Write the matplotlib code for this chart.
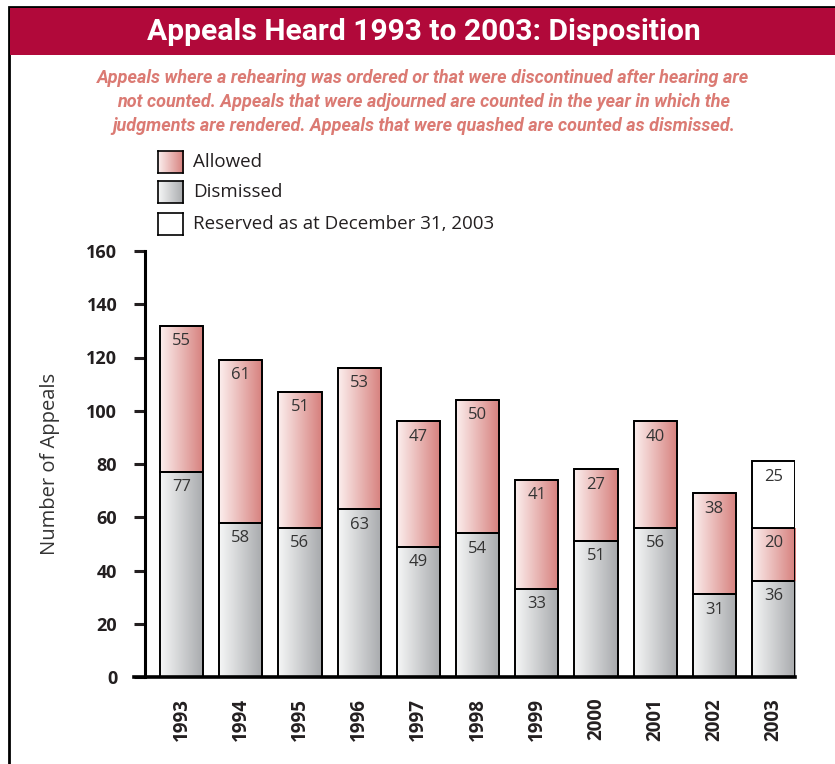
import numpy as np
import matplotlib
matplotlib.use("Agg")
import matplotlib.pyplot as plt
from matplotlib.colors import LinearSegmentedColormap
from matplotlib.patches import Rectangle

# data
years = ["1993", "1994", "1995", "1996", "1997", "1998", "1999", "2000", "2001", "2002", "2003"]
dismissed = [77, 58, 56, 63, 49, 54, 33, 51, 56, 31, 36]
allowed = [55, 61, 51, 53, 47, 50, 41, 27, 40, 38, 20]
reserved = [0, 0, 0, 0, 0, 0, 0, 0, 0, 0, 25]

title = "Appeals Heard 1993 to 2003: Disposition"
subtitle = ("Appeals where a rehearing was ordered or that were discontinued after hearing are\n"
            "not counted. Appeals that were adjourned are counted in the year in which the\n"
            "judgments are rendered. Appeals that were quashed are counted as dismissed.")
legend_labels = ["Allowed", "Dismissed", "Reserved as at December 31, 2003"]

plt.rcParams['font.family'] = ['Open Sans', 'DejaVu Sans']

RED = "#B1093A"
TEXT = "#231F20"
cm_allowed = LinearSegmentedColormap.from_list("allowed", ["#FCEFEE", "#D67F7C"])
cm_dismissed = LinearSegmentedColormap.from_list("dismissed", ["#F6F7F7", "#A7A9AC"])
grad = np.linspace(0, 1, 256).reshape(1, -1)

fig = plt.figure(figsize=(8.35, 7.64), dpi=100)

# frame and title band
fig.patches.append(Rectangle((9 / 835, -0.05), 1, 1.05 - 7 / 764, transform=fig.transFigure,
                             facecolor="none", edgecolor="black", linewidth=2))
fig.patches.append(Rectangle((10 / 835, 1 - 55 / 764), 1, 47 / 764, transform=fig.transFigure,
                             facecolor=RED, edgecolor="none"))
fig.text(0.508, 1 - 32 / 764, title, ha="center", va="center", color="white",
         fontsize=21.6, fontweight="bold", family=["Roboto", "DejaVu Sans"])
fig.text(0.507, 1 - 102 / 764, subtitle, ha="center", va="center", color="#DB7A73",
         fontsize=13, fontweight="bold", style="italic", family=["Roboto", "DejaVu Sans"],
         linespacing=1.4)

ax = fig.add_axes([145 / 835, 1 - 677 / 764, 650 / 835, 426 / 764])
x = np.arange(len(years))
width = 0.73

dis_bars = ax.bar(x, dismissed, width, facecolor="none", edgecolor="black", linewidth=1.4, zorder=3)
all_bars = ax.bar(x, allowed, width, bottom=dismissed, facecolor="none", edgecolor="black",
                  linewidth=1.4, zorder=3)
res_bottom = np.array(dismissed) + np.array(allowed)
res_bars = ax.bar(x, reserved, width, bottom=res_bottom, facecolor="white", edgecolor="black",
                  linewidth=1.4, zorder=3)

# horizontal gradient fill clipped to each bar
for bars, cmap in [(dis_bars, cm_dismissed), (all_bars, cm_allowed)]:
    for b in bars:
        x0, y0 = b.get_x(), b.get_y()
        im = ax.imshow(grad, cmap=cmap, aspect="auto", zorder=2,
                       extent=[x0, x0 + b.get_width(), y0, y0 + b.get_height()])
        im.set_clip_path(b)

# value labels near top of each segment
label_kw = dict(textcoords="offset points", ha="center", va="center", fontsize=12,
                color="#333333", zorder=4)
for i in range(len(years)):
    ax.annotate(str(dismissed[i]), (x[i], dismissed[i]), xytext=(0, -11), **label_kw)
    ax.annotate(str(allowed[i]), (x[i], res_bottom[i]), xytext=(0, -11), **label_kw)
    if reserved[i]:
        ax.annotate(str(reserved[i]), (x[i], res_bottom[i] + reserved[i]), xytext=(0, -11), **label_kw)

ax.set_xlim(-0.617, 10.363)
ax.set_ylim(0, 160)
ax.set_yticks(range(0, 161, 20))
ax.set_xticks(x)
ax.set_xticklabels(years, rotation=90, fontweight="bold", fontsize=13.5, color=TEXT)
for lab in ax.get_yticklabels():
    lab.set_fontweight("bold")
    lab.set_fontsize(13)
    lab.set_color(TEXT)
ax.tick_params(axis="y", direction="out", length=8, width=2.2, pad=12, colors=TEXT)
ax.tick_params(axis="x", length=0, pad=15)
for s in ["top", "right"]:
    ax.spines[s].set_visible(False)
ax.spines["left"].set_linewidth(2.2)
ax.spines["bottom"].set_linewidth(2.6)
ax.spines["bottom"].set_bounds(-0.617 - 11 / 59.2, 10.363)
ax.spines["bottom"].set_clip_on(False)
ax.set_ylabel("Number of Appeals", fontsize=14.5, color="#333333")
ax.yaxis.set_label_coords(-0.13, 0.5)

# legend swatches
rows = [162, 192, 224]
fills = [cm_allowed, cm_dismissed, None]
for yy, cmap, lab in zip(rows, fills, legend_labels):
    sw = fig.add_axes([158 / 835, 1 - (yy + 11) / 764, 25 / 835, 22 / 764])
    if cmap is not None:
        sw.imshow(grad, cmap=cmap, aspect="auto", extent=[0, 1, 0, 1])
    sw.set_xticks([])
    sw.set_yticks([])
    for s in sw.spines.values():
        s.set_linewidth(1.2)
    fig.text(193 / 835, 1 - yy / 764, lab, ha="left", va="center", fontsize=13.5, color=TEXT)

fig.savefig("out.png", dpi=100)
